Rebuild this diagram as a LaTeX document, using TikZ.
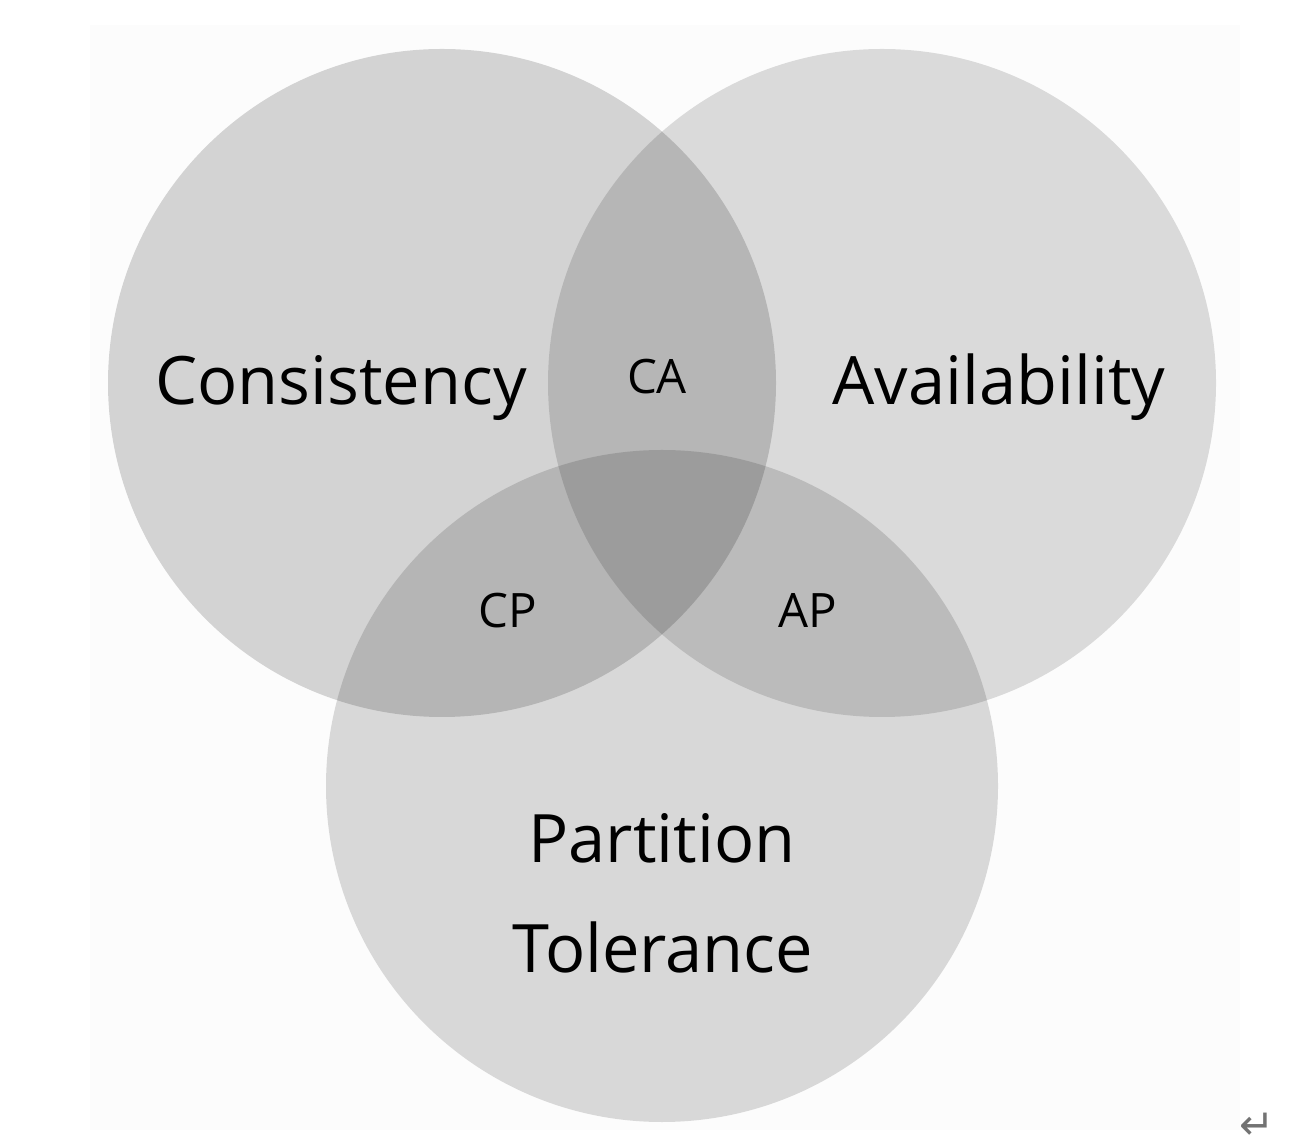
\documentclass[tikz,border=0pt]{standalone}
\usepackage{fontspec}
\setmainfont{Open Sans}
\newfontfamily\symfont{DejaVu Sans}
\usepackage{tikz}
\usetikzlibrary{positioning}

\begin{document}
\begin{tikzpicture}[
    set/.style={fill=black, draw=none},
    big/.style={anchor=base, font=\fontsize{19}{23}\selectfont},
    small/.style={anchor=base, font=\fontsize{13.5}{16}\selectfont}
]
\useasboundingbox (0,0) rectangle (13.14,11.46);
\fill[black!1] (0.9,0.16) rectangle (12.4,11.21);

% the three sets
\coordinate (c) at (4.42,7.63);
\coordinate (a) at (8.82,7.63);
\coordinate (p) at (6.62,3.60);
\fill[set, fill opacity=0.16] (c) circle (3.34);
\fill[set, fill opacity=0.135] (a) circle (3.34);
\fill[set, fill opacity=0.14] (p) circle (3.36);

\node[big] (cons) at (3.41,7.41) {Consistency};
\node[big] (avail) at (9.99,7.41) {Availability};
\node[big] (part) at (6.62,2.84) {Partition};
\node[big] (tol) at (6.63,1.74) {Tolerance};

\node[small] (ca) at (6.57,7.52) {CA};
\node[small] (cp) at (5.08,5.18) {CP};
\node[small] (ap) at (8.08,5.18) {AP};

\node[text=black!55, inner sep=0pt, font=\symfont\fontsize{12}{14}\selectfont] (ret) at (12.57,0.2) {↵};
\end{tikzpicture}
\end{document}
